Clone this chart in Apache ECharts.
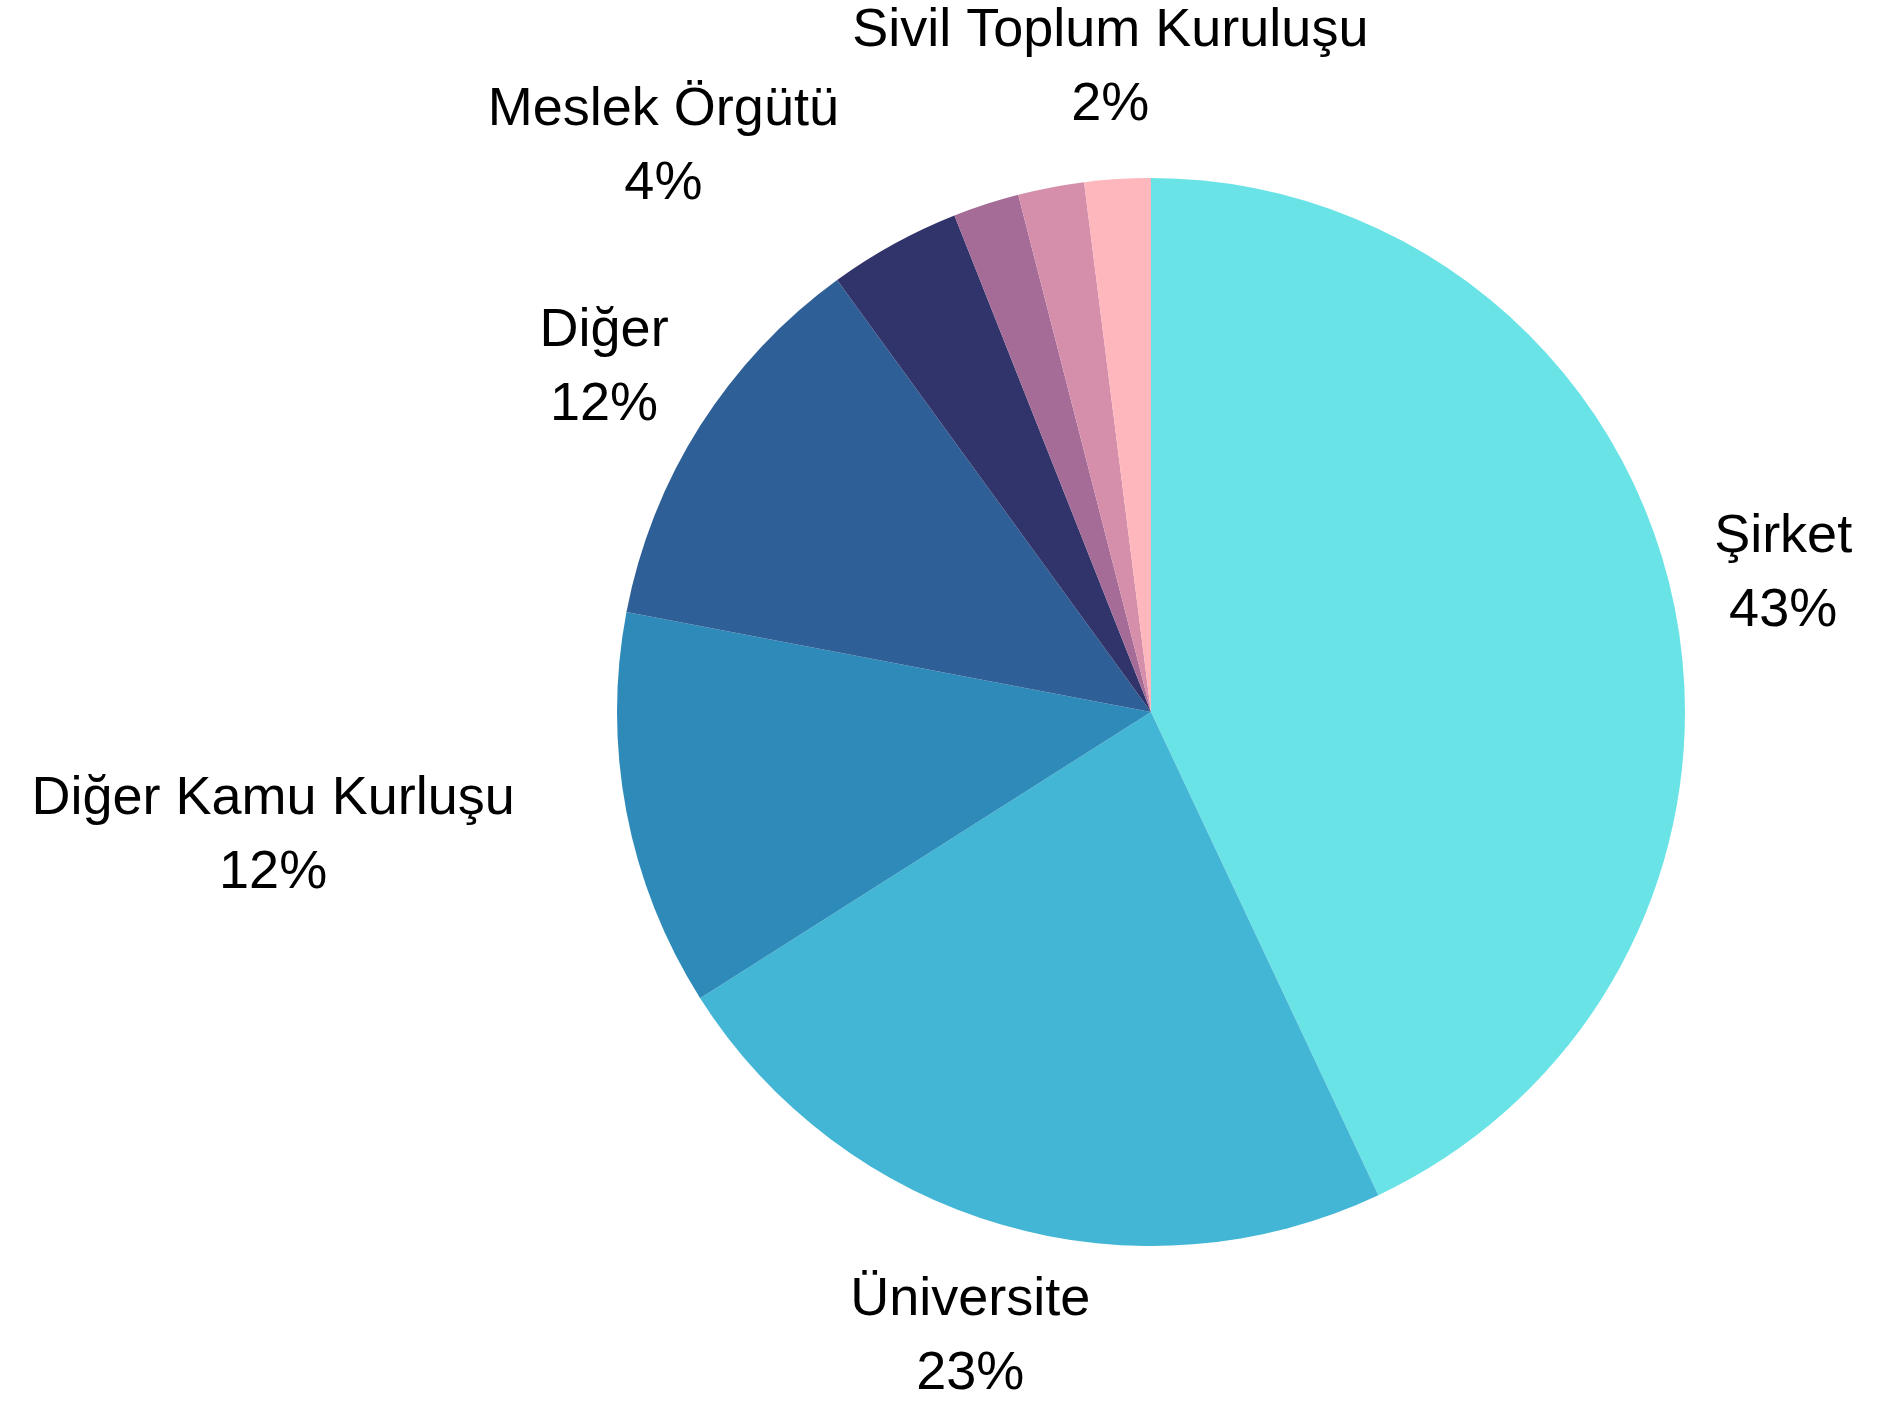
<!DOCTYPE html>
<html>
<head>
<meta charset="utf-8">
<title>Kurum Türü Dağılımı</title>
<script src="https://cdn.jsdelivr.net/npm/echarts@6/dist/echarts.min.js"></script>
<style>
  html, body { margin: 0; padding: 0; background: #ffffff; }
  #chart { width: 1883px; height: 1404px; }
</style>
</head>
<body>
<div id="chart"></div>
<script>
// Institution types and their shares (percent), clockwise from 12 o'clock
const categories = [
  'Şirket',
  'Üniversite',
  'Diğer Kamu Kurluşu',
  'Diğer',
  'Meslek Örgütü',
  'Belediye',
  'Vakıf',
  'Sivil Toplum Kuruluşu'
];
const values = [43, 23, 12, 12, 4, 2, 2, 2];

// Slices whose labels are left off (too crowded at the top)
const unlabeled = ['Belediye', 'Vakıf'];

const palette = [
  '#6ae3e7', '#43b6d5', '#2e8bb9', '#2f5f97',
  '#31346b', '#a46c96', '#d58fab', '#feb7bc'
];

// Pie geometry (pixels)
const CX = 1151, CY = 712, R = 534;
const LABEL_R = R * 1.213;

const total = values.reduce((s, v) => s + v, 0);
// mid-angle of each slice, radians, clockwise from the top
const midAngles = [];
let acc = 0;
values.forEach(v => {
  midAngles.push(((acc + v / 2) / total) * Math.PI * 2);
  acc += v;
});

const chart = echarts.init(document.getElementById('chart'), null, { renderer: 'canvas' });

chart.setOption({
  backgroundColor: '#ffffff',
  animation: false,
  color: palette,
  series: [{
    type: 'pie',
    center: [CX, CY],
    radius: [0, R],
    startAngle: 90,
    clockwise: true,
    avoidLabelOverlap: false,
    percentPrecision: 0,
    itemStyle: { borderWidth: 0 },
    label: {
      show: true,
      position: 'outside',
      formatter: '{b}\n{d}%',
      fontFamily: '"Liberation Sans", Arial, sans-serif',
      fontSize: 54,
      lineHeight: 74,
      color: '#000000',
      align: 'center'
    },
    labelLine: { show: false },
    emphasis: { disabled: true },
    labelLayout: function (params) {
      const a = midAngles[params.dataIndex];
      let x = CX + LABEL_R * Math.sin(a);
      const y = CY - LABEL_R * Math.cos(a) + 3;
      const w = params.labelRect.width;
      const h = params.labelRect.height;
      // closest point of the centred text block to the pie centre
      const nx = Math.max(x - w / 2, Math.min(CX, x + w / 2));
      const ny = Math.max(y - h / 2, Math.min(CY, y + h / 2));
      const d = Math.hypot(nx - CX, ny - CY);
      if (d < R) {
        // push the block outward so its inner edge sits on the anchor
        x += (x < CX ? -w / 2 : w / 2);
      }
      return { x: x, y: y, align: 'center', verticalAlign: 'middle' };
    },
    data: categories.map((name, i) => ({
      name: name,
      value: values[i],
      label: { show: unlabeled.indexOf(name) < 0 }
    }))
  }]
});
</script>
</body>
</html>
